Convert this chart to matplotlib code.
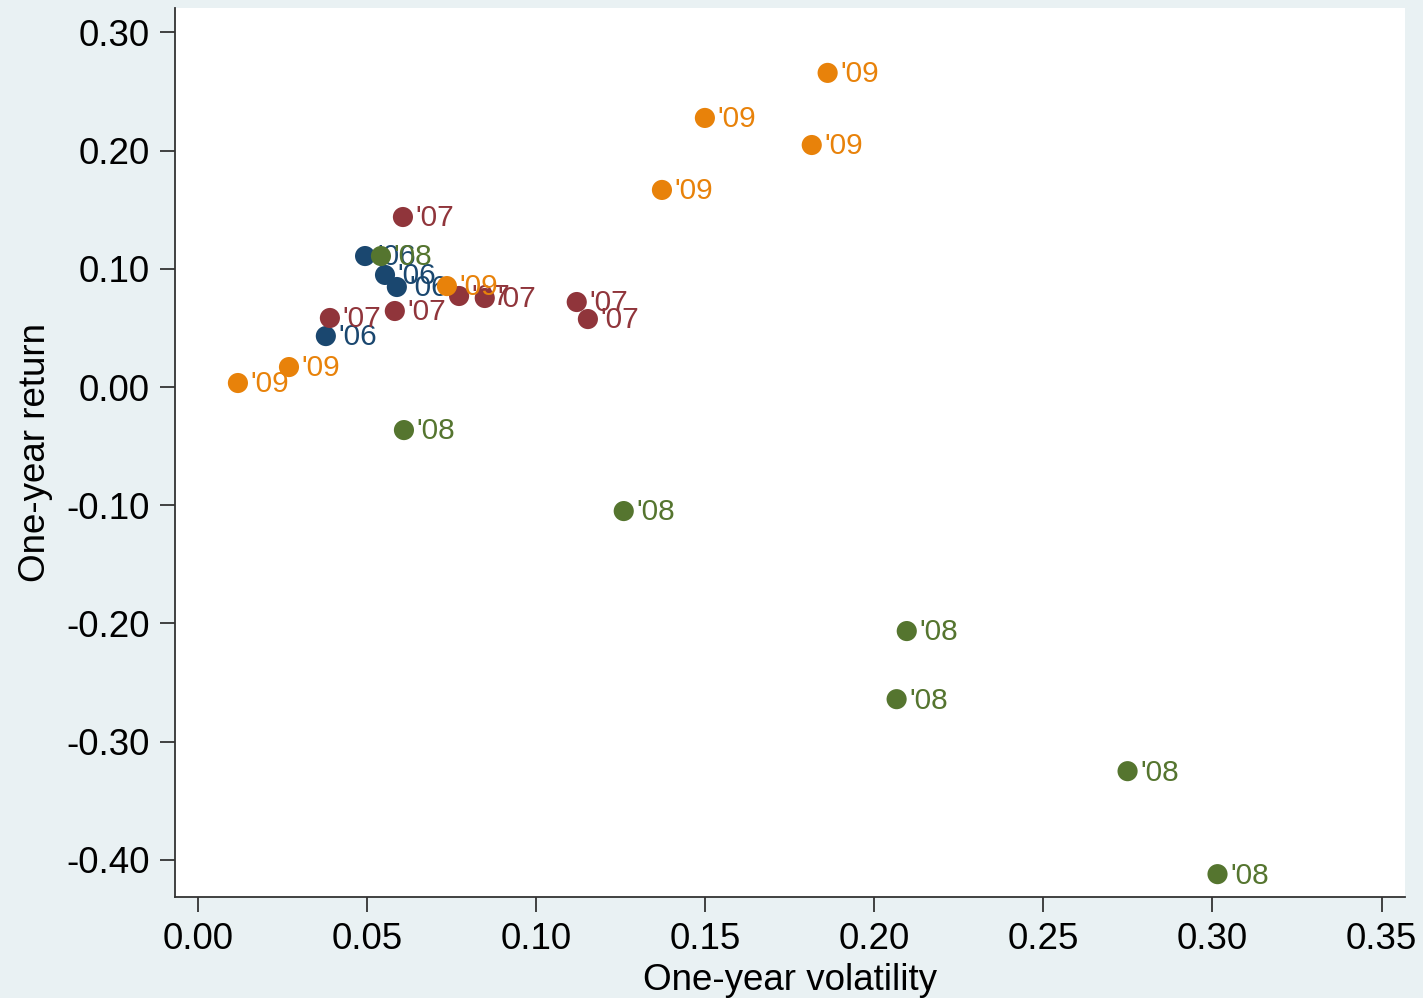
import matplotlib
matplotlib.use("Agg")
import matplotlib.pyplot as plt

plt.rcParams['font.family'] = ['Liberation Sans', 'DejaVu Sans']

# One-year volatility / return by year group
vol_06 = [0.0494, 0.0553, 0.0588, 0.0378]
ret_06 = [0.1108, 0.0948, 0.0846, 0.0431]

vol_07 = [0.0606, 0.0390, 0.0582, 0.0772, 0.0848, 0.1120, 0.1153]
ret_07 = [0.1438, 0.0584, 0.0643, 0.0770, 0.0753, 0.0719, 0.0575]

vol_08 = [0.0541, 0.0609, 0.1259, 0.2096, 0.2066, 0.2749, 0.3015]
ret_08 = [0.1108, -0.0364, -0.1049, -0.2064, -0.2640, -0.3249, -0.4120]

vol_09 = [0.1862, 0.1499, 0.1815, 0.1372, 0.0736, 0.0269, 0.0118]
ret_09 = [0.2657, 0.2276, 0.2047, 0.1667, 0.0854, 0.0169, 0.0034]

groups = [
    ("'06", vol_06, ret_06, "#1a476f"),
    ("'07", vol_07, ret_07, "#90353b"),
    ("'08", vol_08, ret_08, "#55752f"),
    ("'09", vol_09, ret_09, "#e8820a"),
]

xticks = [0.00, 0.05, 0.10, 0.15, 0.20, 0.25, 0.30, 0.35]
yticks = [0.30, 0.20, 0.10, 0.00, -0.10, -0.20, -0.30, -0.40]

bg = "#e9f1f3"
fig = plt.figure(figsize=(14.23, 9.98), dpi=100, facecolor=bg)
ax = fig.add_axes([0.123, 0.101, 0.864, 0.891])
ax.set_facecolor("white")

for i, (lab, xs, ys, col) in enumerate(groups):
    z = 3 + i
    ax.scatter(xs, ys, s=210, color=col, edgecolors="none", zorder=z)
    for x, y in zip(xs, ys):
        ax.annotate(lab, (x, y), xytext=(9, -1), textcoords="offset points",
                    ha="left", va="center", fontsize=21.5, color=col, zorder=z)

ax.set_xlim(-0.0068, 0.3568)
ax.set_ylim(-0.4315, 0.3206)
ax.set_xticks(xticks)
ax.set_xticklabels([f"{t:.2f}" for t in xticks])
ax.set_yticks(yticks)
ax.set_yticklabels([f"{t:.2f}" for t in yticks])

for s in ("top", "right"):
    ax.spines[s].set_visible(False)
for s in ("left", "bottom"):
    ax.spines[s].set_linewidth(1.3)
    ax.spines[s].set_color("#333333")

ax.tick_params(axis="both", direction="out", length=11, width=1.3,
               color="#333333", labelsize=26.5, pad=7)

ax.set_xlabel("One-year volatility", fontsize=26.5, labelpad=4)
ax.set_ylabel("One-year return", fontsize=26.5, labelpad=10)

fig.savefig("out.png", dpi=100, facecolor=bg)
